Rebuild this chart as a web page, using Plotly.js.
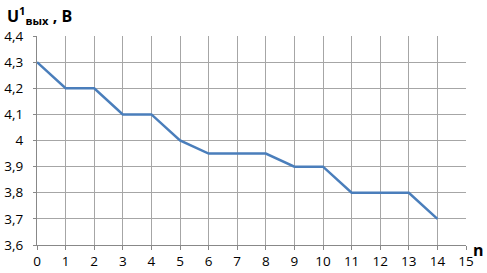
<!DOCTYPE html>
<html><head><meta charset="utf-8">
<script src="https://cdn.plot.ly/plotly-3.0.1.min.js"></script>
<style>body{margin:0;padding:0;background:#fff}#c{width:487px;height:273px}</style>
</head><body><div id="c"></div>
<script>
const nValues = [0,1,2,3,4,5,6,7,8,9,10,11,12,13,14];
const uValues = [4.3,4.2,4.2,4.1,4.1,4.0,3.95,3.95,3.95,3.9,3.9,3.8,3.8,3.8,3.7];
const xTicks = [0,1,2,3,4,5,6,7,8,9,10,11,12,13,14,15];
const yTicks = [3.6,3.7,3.8,3.9,4.0,4.1,4.2,4.3,4.4];
const yTickText = ['3,6','3,7','3,8','3,9','4','4,1','4,2','4,3','4,4'];
const font = {family:'Open Sans, Liberation Sans, sans-serif', size:13.5, color:'#000'};
Plotly.newPlot('c', [{
  x: nValues, y: uValues, mode:'lines', type:'scatter',
  line:{color:'#4a7ebb', width:2.5}, hoverinfo:'none'
}], {
  width:487, height:273,
  margin:{l:37, r:21, t:36, b:28},
  paper_bgcolor:'#fff', plot_bgcolor:'#fff',
  showlegend:false, font: font,
  xaxis:{range:[0,15], tickvals:xTicks, ticktext:xTicks.map(String), showgrid:true, gridcolor:'#a6a6a6', gridwidth:1,
    zeroline:false, showline:true, linecolor:'#888', ticks:'outside', ticklen:4, tickcolor:'#888', tickfont:font, fixedrange:true},
  yaxis:{range:[3.6,4.4], tickvals:yTicks, ticktext:yTickText, showgrid:true, gridcolor:'#a6a6a6', gridwidth:1,
    zeroline:false, showline:true, linecolor:'#888', ticks:'outside', ticklen:3, tickcolor:'#888', tickfont:font, ticklabelstandoff:7, fixedrange:true},
  annotations:[
    {text:'<b>U<sup>1</sup><sub>вых</sub> , B</b>', xref:'paper', yref:'paper', x:-0.075, y:1.1, xanchor:'left', yanchor:'middle', showarrow:false, font:{family:font.family, size:16, color:'#000'}},
    {text:'<b>n</b>', xref:'paper', yref:'paper', x:1.03, y:-0.025, xanchor:'center', yanchor:'middle', showarrow:false, font:{family:font.family, size:16, color:'#000'}}
  ]
}, {staticPlot:true});
</script></body></html>
